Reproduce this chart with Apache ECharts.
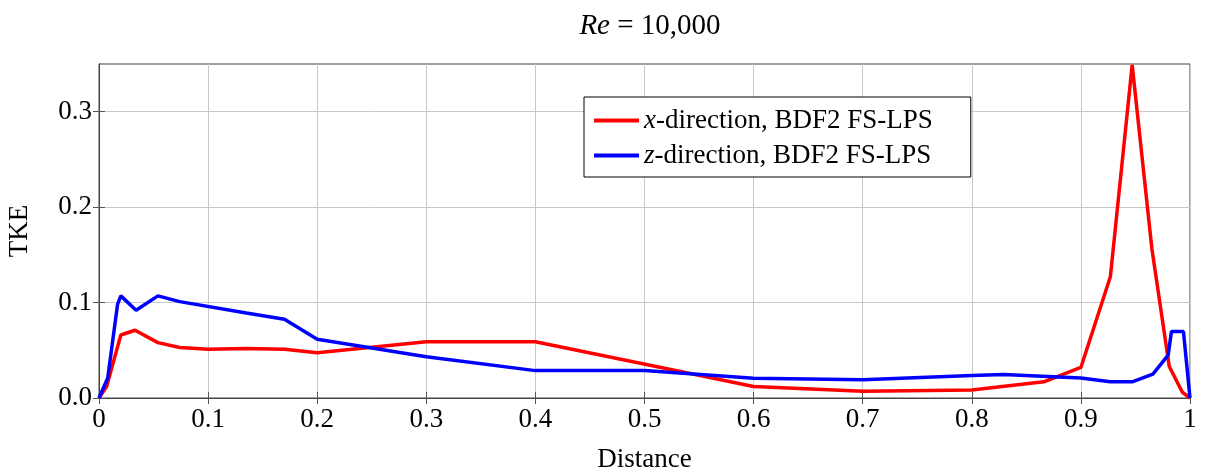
<!DOCTYPE html>
<html><head><meta charset="utf-8">
<script src="https://cdn.jsdelivr.net/npm/echarts@6/dist/echarts.min.js"></script>
<style>html,body{margin:0;padding:0;background:#fff}#c{width:1210px;height:472px}</style>
</head><body><div id="c"></div>
<script>
const xRed = [0, 0.007, 0.020, 0.033, 0.054, 0.074, 0.100, 0.135, 0.170, 0.200, 0.300, 0.400, 0.600, 0.700, 0.800, 0.866, 0.900, 0.927, 0.947, 0.965, 0.981, 0.993, 1.000];
const yRed = [0, 0.012, 0.066, 0.071, 0.058, 0.053, 0.051, 0.052, 0.051, 0.0475, 0.059, 0.059, 0.012, 0.007, 0.0085, 0.017, 0.032, 0.127, 0.349, 0.157, 0.033, 0.006, 0];
const xBlue = [0, 0.008, 0.017, 0.020, 0.034, 0.054, 0.074, 0.135, 0.170, 0.200, 0.300, 0.400, 0.500, 0.600, 0.700, 0.800, 0.829, 0.900, 0.927, 0.947, 0.966, 0.980, 0.983, 0.994, 1.000];
const yBlue = [0, 0.021, 0.098, 0.107, 0.092, 0.107, 0.101, 0.089, 0.0825, 0.0615, 0.0433, 0.0287, 0.0287, 0.0206, 0.019, 0.0235, 0.0245, 0.021, 0.017, 0.017, 0.025, 0.045, 0.0696, 0.0696, 0];
const yTicks = [0, 0.1, 0.2, 0.3];
const seriesNames = ['x-direction, BDF2 FS-LPS', 'z-direction, BDF2 FS-LPS'];
const titleText = '{i|Re} = 10,000';
const xName = 'Distance';
const yName = 'TKE';

const font = 'Liberation Serif';
const zip = (xs, ys) => xs.map((x, i) => [x, ys[i]]);
const chart = echarts.init(document.getElementById('c'));
const tickCommon = {inside: true, length: 6, lineStyle: {color: '#555', width: 1}};
chart.setOption({
  animation: false,
  title: {
    text: titleText, left: 645, top: 7, textAlign: 'center',
    textStyle: {fontFamily: font, fontSize: 29, fontWeight: 'normal', color: '#000',
      rich: {i: {fontFamily: font, fontSize: 29, fontStyle: 'italic', color: '#000'}}}
  },
  legend: {
    orient: 'vertical', left: 584, top: 97,
    padding: [10, 38, 8, 10], itemGap: 8, itemWidth: 45, itemHeight: 4,
    icon: 'rect',
    borderColor: '#000', borderWidth: 1, backgroundColor: '#fff',
    data: seriesNames,
    formatter: n => '{i|' + n[0] + '}{n|' + n.slice(1) + '}',
    textStyle: {fontFamily: font, fontSize: 27, color: '#000', lineHeight: 26,
      rich: {i: {fontFamily: font, fontSize: 27, fontStyle: 'italic', color: '#000', lineHeight: 26},
             n: {fontFamily: font, fontSize: 27, color: '#000', lineHeight: 26}}}
  },
  grid: {left: 99, right: 20, top: 64, bottom: 74, show: true, borderColor: '#444', borderWidth: 1,
         containLabel: false, outerBoundsMode: 'none'},
  xAxis: [{
    type: 'value', min: 0, max: 1, interval: 0.1,
    name: xName, nameLocation: 'middle', nameGap: 48,
    nameTextStyle: {fontFamily: font, fontSize: 27, color: '#000'},
    axisLine: {lineStyle: {color: '#444'}},
    axisTick: tickCommon,
    axisLabel: {fontFamily: font, fontSize: 27, color: '#000', margin: 8},
    splitLine: {show: true, lineStyle: {color: '#c8c8c8', width: 1}}
  }, {
    type: 'value', position: 'top', min: 0, max: 1, interval: 0.1,
    axisLine: {show: true, lineStyle: {color: '#444'}}, axisTick: tickCommon,
    axisLabel: {show: false}, splitLine: {show: false}
  }],
  yAxis: [{
    type: 'value', min: 0, max: 0.35, interval: 0.1,
    name: yName, nameLocation: 'middle', nameGap: 66, nameRotate: 90,
    nameTextStyle: {fontFamily: font, fontSize: 27, color: '#000'},
    axisLine: {show: true, lineStyle: {color: '#444'}},
    axisTick: Object.assign({customValues: yTicks}, tickCommon),
    axisLabel: {fontFamily: font, fontSize: 27, color: '#000', margin: 7, customValues: yTicks, formatter: v => v.toFixed(1)},
    splitLine: {show: true, lineStyle: {color: '#c8c8c8', width: 1}}
  }, {
    type: 'value', position: 'right', min: 0, max: 0.35, interval: 0.1,
    axisLine: {show: true, lineStyle: {color: '#444'}}, axisTick: Object.assign({customValues: yTicks}, tickCommon),
    axisLabel: {show: false}, splitLine: {show: false}
  }],
  series: [
    {name: seriesNames[0], type: 'line', data: zip(xRed, yRed), symbol: 'none', color: '#ff0000', lineStyle: {width: 3.5, color: '#ff0000'}},
    {name: seriesNames[1], type: 'line', data: zip(xBlue, yBlue), symbol: 'none', color: '#0000ff', lineStyle: {width: 3.5, color: '#0000ff'}}
  ]
});
</script></body></html>
